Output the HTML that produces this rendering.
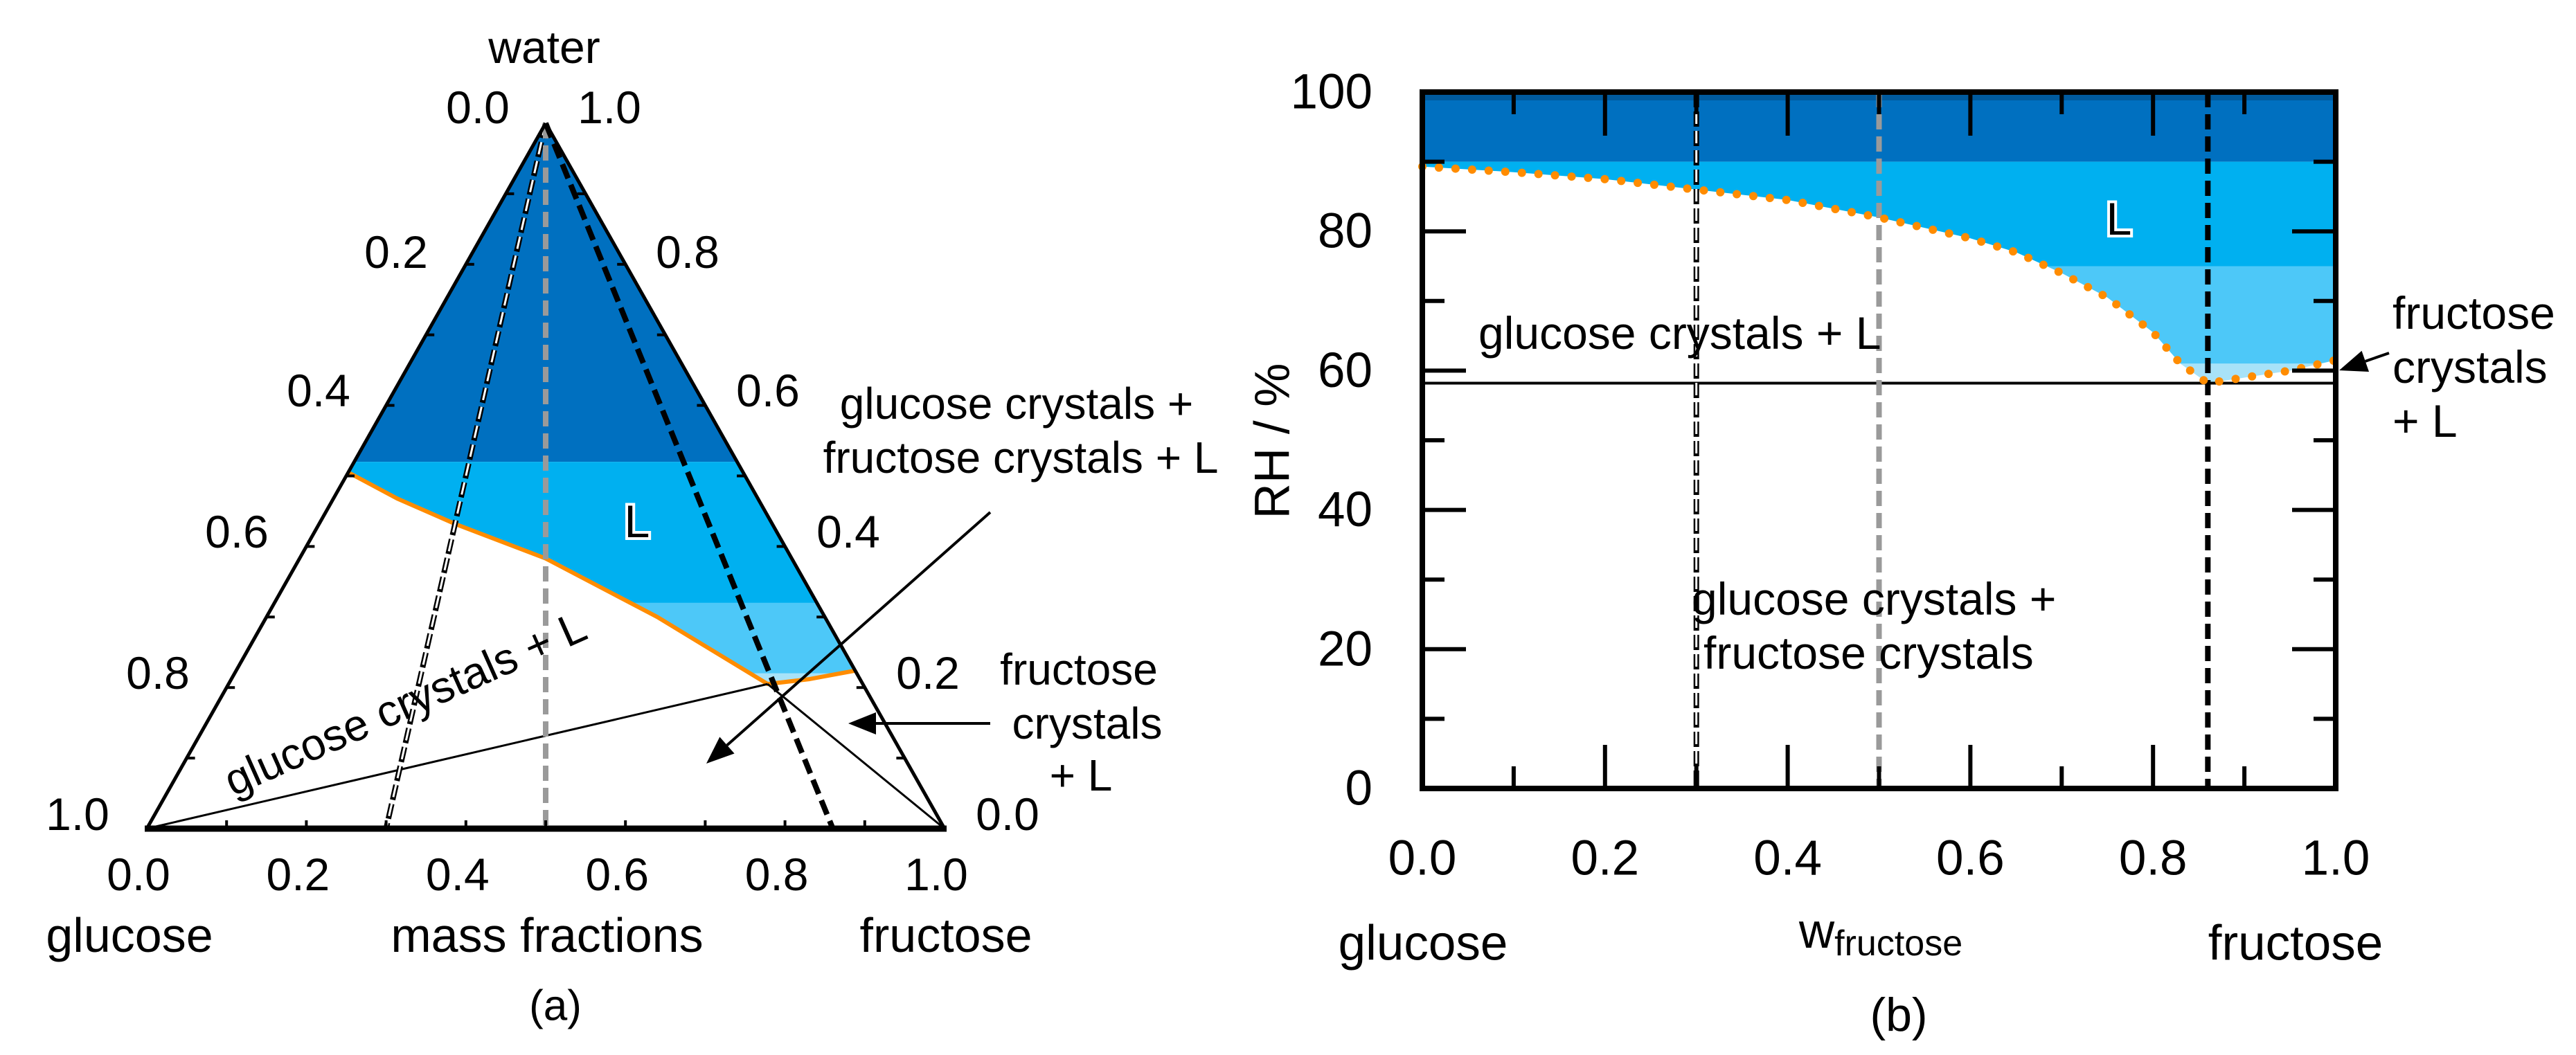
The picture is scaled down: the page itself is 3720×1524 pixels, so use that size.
<!DOCTYPE html>
<html><head><meta charset="utf-8"><style>
html,body{margin:0;padding:0;background:#fff;}
svg{display:block;}
text{font-family:"Liberation Sans",Arial,sans-serif;fill:#000;}
</style></head>
<body>
<svg id="fig" width="3720" height="1524" viewBox="0 0 3720 1524" xmlns="http://www.w3.org/2000/svg">
<defs>
<clipPath id="triClip"><polygon id="triClipPoly" points=""/></clipPath>
<clipPath id="rhClip"><polygon id="rhClipPoly" points=""/></clipPath>
</defs>
<g id="panelA"></g>
<g id="panelB"></g>
</svg>
<script>
// ---- Panel (b) data ----
const rhX = [0, 0.1, 0.2, 0.3, 0.4, 0.5, 0.6, 0.65, 0.7, 0.75, 0.8, 0.83, 0.86, 0.9, 0.95, 1.0];
const rhY = [89.3, 88.5, 87.5, 86, 84.5, 82, 79, 77, 74, 70.5, 65.5, 61, 58.2, 59, 60, 61.5];
const rhBands = [100, 90, 75, 61, 0];
const eutecticRH = [58.2];
const compositions = [0.3, 0.5, 0.86];
const xTicks = ["0.0", "0.2", "0.4", "0.6", "0.8", "1.0"];
const yTicks = ["0", "20", "40", "60", "80", "100"];
// ---- Panel (a) data ----
const curveR = [0, 0.15, 0.3, 0.5, 0.7, 0.85, 0.92, 1.0];
const curveW = [0.505, 0.468, 0.432, 0.383, 0.30, 0.205, 0.212, 0.224];
const triBands = [1.0, 0.52, 0.32, 0.22, 0];
const ternTicks = ["0.0", "0.2", "0.4", "0.6", "0.8", "1.0"];

const NS = "http://www.w3.org/2000/svg";
function mk(parent, tag, attrs, txt) {
  const e = document.createElementNS(NS, tag);
  for (const k in attrs) e.setAttribute(k, attrs[k]);
  if (txt !== undefined) e.textContent = txt;
  parent.appendChild(e);
  return e;
}
const colors = ["#0070c0", "#00b0f0", "#4dc8f8", "#a8e2f8"];

// ================= Panel A: ternary =================
const A = document.getElementById("panelA");
const TL = 212, TB = 1197, TW = 1152, TH = 1019;
function tx(f, w) { return TL + (f + w / 2) * TW; }
function ty(w) { return TB - w * TH; }
function rpt(r, w) { const f = r * (1 - w); return [tx(f, w), ty(w)]; }

let cp = [];
for (let i = 0; i < curveR.length; i++) cp.push(rpt(curveR[i], curveW[i]));
cp.push([tx(0, 1), ty(1)]);
document.getElementById("triClipPoly").setAttribute("points", cp.map(p => p.join(",")).join(" "));
const triFill = mk(A, "g", {"clip-path": "url(#triClip)"});


for (let i = 0; i < triBands.length - 1; i++) {
  const y1 = ty(triBands[i]), y2 = ty(triBands[i + 1]);
  const r = mk(triFill, "rect", {x: 0, y: y1, width: 1600, height: y2 - y1, fill: colors[i]});
  
  
}
const oc = mk(A, "polyline", {points: cp.slice(0, curveR.length).map(p => p.join(",")).join(" "), fill: "none", stroke: "#ff8c00", "stroke-width": 6, "stroke-linejoin": "round"});


const eIdx = 5;
const eu = rpt(curveR[eIdx], curveW[eIdx]);
const t1 = mk(A, "line", {x1: tx(0, 0), y1: ty(0), x2: eu[0], y2: eu[1], stroke: "#000", "stroke-width": 3});


const t2 = mk(A, "line", {x1: eu[0], y1: eu[1], x2: tx(1, 0), y2: ty(0), stroke: "#000", "stroke-width": 3});


function dashLine(parent, x1, y1, x2, y2, i, name) {
  const g = mk(parent, "g", {});
  
  
  if (i === 0) {
    mk(g, "line", {x1, y1, x2, y2, stroke: "#000", "stroke-width": 8, "stroke-dasharray": "22 6"});
    mk(g, "line", {x1, y1, x2, y2, stroke: "#fff", "stroke-width": 3, "stroke-dasharray": "18 10"});
  } else if (i === 1) {
    mk(g, "line", {x1, y1, x2, y2, stroke: "#9a9a9a", "stroke-width": 8, "stroke-dasharray": "22 10"});
  } else {
    mk(g, "line", {x1, y1, x2, y2, stroke: "#000", "stroke-width": 8, "stroke-dasharray": "22 10"});
  }
}
compositions.forEach((c, i) => {
  dashLine(A, tx(0, 1), ty(1), tx(c, 0), ty(0), i, "composition-line-" + c);
});
const tri = mk(A, "g", {});


mk(tri, "line", {x1: tx(0, 0), y1: ty(0), x2: tx(0, 1), y2: ty(1), stroke: "#000", "stroke-width": 5});
mk(tri, "line", {x1: tx(1, 0), y1: ty(0), x2: tx(0, 1), y2: ty(1), stroke: "#000", "stroke-width": 5});
mk(tri, "line", {x1: tx(0, 0) - 3, y1: ty(0), x2: tx(1, 0) + 3, y2: ty(0), stroke: "#000", "stroke-width": 9});
for (let k = 1; k < 10; k++) {
  const v = k / 10;
  mk(tri, "line", {x1: tx(v, 0), y1: ty(0), x2: tx(v, 0), y2: ty(0) - 12, stroke: "#000", "stroke-width": 4});
  mk(tri, "line", {x1: tx(0, v), y1: ty(v), x2: tx(0, v) + 12, y2: ty(v), stroke: "#000", "stroke-width": 4});
  mk(tri, "line", {x1: tx(1 - v, v), y1: ty(v), x2: tx(1 - v, v) - 12, y2: ty(v), stroke: "#000", "stroke-width": 4});
}
function txt(parent, x, y, s, size, name, extra) {
  const a = Object.assign({x, y, "font-size": size, "text-anchor": "middle", "dominant-baseline": "central"}, extra || {});
  const t = mk(parent, "text", a, s);
  
  
  return t;
}
const tf = 66;
ternTicks.forEach((s, i) => {
  const v = i / 5;
  txt(A, tx(v, 0) - 12, 1263, s, tf, "bottom-tick-" + s);
});
const leftPos = [[690,155],[572,364],[460,564],[342,768],[228,972],[112,1176]];
ternTicks.forEach((s, i) => txt(A, leftPos[i][0], leftPos[i][1], s, tf, "left-tick-" + s));
const rightPos = [[1455,1176],[1340,972],[1225,768],[1109,564],[993,364],[880,155]];
ternTicks.forEach((s, i) => txt(A, rightPos[i][0], rightPos[i][1], s, tf, "right-tick-" + s));
txt(A, 786, 68, "water", tf, "water-vertex-label");
txt(A, 187, 1351, "glucose", 70, "glucose-vertex-label");
txt(A, 790, 1351, "mass fractions", 70, "mass-fractions-label");
txt(A, 1366, 1351, "fructose", 70, "fructose-vertex-label");
txt(A, 802, 1453, "(a)", 62, "panel-a-label");
txt(A, 585, 1016, "glucose crystals + L", 64, "glucose-crystals-L-label", {transform: "rotate(-24 585 1016)"});
txt(A, 1468, 583, "glucose crystals +", 64, "three-phase-label-1");
txt(A, 1474, 661, "fructose crystals + L", 64, "three-phase-label-2");
txt(A, 1558, 967, "fructose", 64, "fructose-crystals-label-1");
txt(A, 1570, 1045, "crystals", 64, "fructose-crystals-label-2");
txt(A, 1561, 1120, "+ L", 64, "fructose-crystals-label-3");
txt(A, 920, 753, "L", 66, "liquid-label-a", {fill: "#1a3a60", stroke: "#fff", "stroke-width": 8, "paint-order": "stroke"});
function arrow(parent, x1, y1, x2, y2, name) {
  const g = mk(parent, "g", {});
  
  
  const ang = Math.atan2(y2 - y1, x2 - x1), L = 40, Wd = 16;
  const bx = x2 - L * Math.cos(ang), by = y2 - L * Math.sin(ang);
  mk(g, "line", {x1, y1, x2: bx, y2: by, stroke: "#000", "stroke-width": 4});
  const px = -Math.sin(ang) * Wd, py = Math.cos(ang) * Wd;
  mk(g, "polygon", {points: `${x2},${y2} ${bx + px},${by + py} ${bx - px},${by - py}`, fill: "#000"});
}
arrow(A, 1430, 740, 1020, 1103, "three-phase-arrow");
arrow(A, 1430, 1045, 1225, 1045, "fructose-crystals-arrow-a");

// ================= Panel B =================
const B = document.getElementById("panelB");
const X0 = 2054, X1 = 3373, Y0 = 1139, Y100 = 133;
function xs(v) { return X0 + v * (X1 - X0); }
function ys(v) { return Y0 - v / 100 * (Y0 - Y100); }
let rp = rhX.map((x, i) => [xs(x), ys(rhY[i])]);
const clipPts = rp.concat([[xs(1), ys(100)], [xs(0), ys(100)]]);
document.getElementById("rhClipPoly").setAttribute("points", clipPts.map(p => p.join(",")).join(" "));
const rhFill = mk(B, "g", {"clip-path": "url(#rhClip)"});


for (let i = 0; i < rhBands.length - 1; i++) {
  const y1 = ys(rhBands[i]), y2 = ys(rhBands[i + 1]);
  const r = mk(rhFill, "rect", {x: X0, y: y1, width: X1 - X0, height: y2 - y1, fill: colors[i]});
  
  
}
const strip = mk(B, "rect", {x: X0, y: ys(100), width: X1 - X0, height: 12, fill: "#005a9e"});


const el = mk(B, "line", {x1: X0, y1: ys(eutecticRH[0]), x2: X1, y2: ys(eutecticRH[0]), stroke: "#000", "stroke-width": 4});


compositions.forEach((c, i) => dashLine(B, xs(c), ys(100), xs(c), ys(0), i, "rh-composition-line-" + c));
const dc = mk(B, "polyline", {points: rp.map(p => p.join(",")).join(" "), fill: "none", stroke: "#ff8c00", "stroke-width": 12, "stroke-linecap": "round", "stroke-dasharray": "0 24"});


const fr = mk(B, "g", {});


mk(fr, "rect", {x: X0, y: Y100, width: X1 - X0, height: Y0 - Y100, fill: "none", stroke: "#000", "stroke-width": 8});
for (let k = 1; k < 10; k++) {
  const v = k / 10, len = k % 2 === 0 ? 63 : 32;
  mk(fr, "line", {x1: xs(v), y1: Y0, x2: xs(v), y2: Y0 - len, stroke: "#000", "stroke-width": 6});
  mk(fr, "line", {x1: xs(v), y1: Y100, x2: xs(v), y2: Y100 + len, stroke: "#000", "stroke-width": 6});
  const yv = k * 10, ylen = k % 2 === 0 ? 63 : 32;
  mk(fr, "line", {x1: X0, y1: ys(yv), x2: X0 + ylen, y2: ys(yv), stroke: "#000", "stroke-width": 6});
  mk(fr, "line", {x1: X1, y1: ys(yv), x2: X1 - ylen, y2: ys(yv), stroke: "#000", "stroke-width": 6});
}
xTicks.forEach((s, i) => txt(B, xs(i / 5), 1240, s, 71, "x-tick-" + s));
yTicks.forEach((s, i) => txt(B, 1982, ys(i * 20), s, 71, "y-tick-" + s, {"text-anchor": "end"}));
txt(B, 1838, 637, "RH / %", 71, "y-axis-title", {transform: "rotate(-90 1838 637)"});
txt(B, 2055, 1363, "glucose", 71, "x-glucose-label");
txt(B, 3315, 1363, "fructose", 71, "x-fructose-label");
const wl = mk(B, "text", {x: 2716, y: 1345, "font-size": 71, "text-anchor": "middle", "dominant-baseline": "central"});


mk(wl, "tspan", {}, "w");
mk(wl, "tspan", {dy: 18, "font-size": 52}, "fructose");
txt(B, 2742, 1466, "(b)", 68, "panel-b-label");
txt(B, 2135, 481, "glucose crystals + L", 66, "glucose-crystals-L-label-b", {"text-anchor": "start"});
txt(B, 2443, 865, "glucose crystals +", 66, "two-solid-label-1", {"text-anchor": "start"});
txt(B, 2460, 943, "fructose crystals", 66, "two-solid-label-2", {"text-anchor": "start"});
txt(B, 3060, 316, "L", 66, "liquid-label-b", {fill: "#1a3a60", stroke: "#fff", "stroke-width": 8, "paint-order": "stroke"});
txt(B, 3455, 452, "fructose", 66, "fructose-crystals-b-1", {"text-anchor": "start"});
txt(B, 3455, 530, "crystals", 66, "fructose-crystals-b-2", {"text-anchor": "start"});
txt(B, 3455, 608, "+ L", 66, "fructose-crystals-b-3", {"text-anchor": "start"});
arrow(B, 3450, 510, 3378, 535, "fructose-crystals-arrow-b");
</script>
</body></html>
